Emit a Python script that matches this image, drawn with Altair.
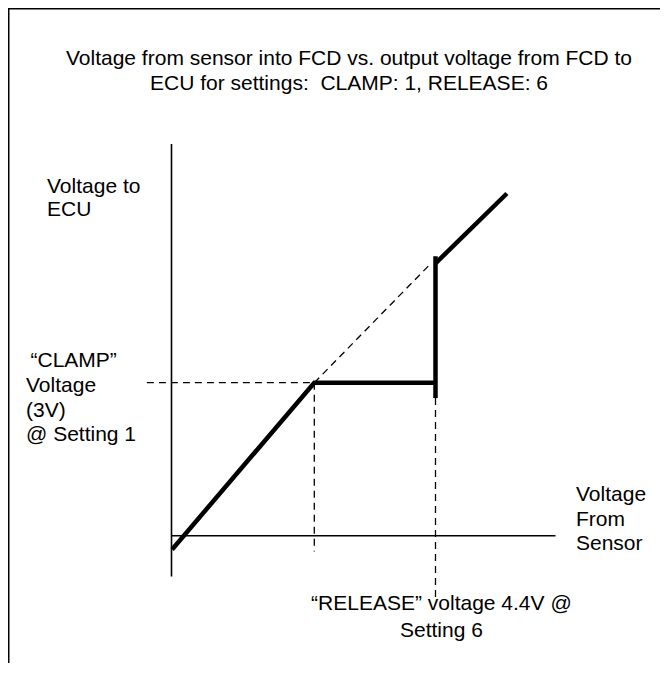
import altair as alt
import pandas as pd

# ---- values (volts) ----
CLAMP_V = 3.0          # clamp output voltage (setting 1)
RELEASE_V = 4.4        # release input voltage (setting 6)
KNEE_IN = 2.38         # sensor voltage where the clamp starts

out_path_x = [0.01, KNEE_IN, RELEASE_V]      # rising then clamped output
out_path_y = [-0.27, CLAMP_V, CLAMP_V]
jump_x = [RELEASE_V, RELEASE_V]               # jump at release
jump_y = [2.70, 5.48]
released_x = [RELEASE_V, 5.59]                # output follows input again
released_y = [5.34, 6.71]

ideal_x = [KNEE_IN, 4.30]                     # un-clamped (dashed) continuation
ideal_y = [CLAMP_V, 5.31]
clamp_guide_x = [-0.41, KNEE_IN]
clamp_guide_y = [CLAMP_V, CLAMP_V]
knee_drop_x = [KNEE_IN, KNEE_IN]
knee_drop_y = [CLAMP_V, -0.31]
release_drop_x = [RELEASE_V, RELEASE_V]
release_drop_y = [2.70, -1.26]

yaxis_x = [0.0, 0.0]
yaxis_y = [-0.80, 7.68]
xaxis_x = [0.0, 6.40]
xaxis_y = [0.0, 0.0]

title_lines = ["Voltage from sensor into FCD vs. output voltage from FCD to",
               "ECU for settings:\u00a0 CLAMP: 1, RELEASE: 6"]
y_label_lines = ["Voltage to", "ECU"]
x_label_lines = ["Voltage", "From", "Sensor"]
clamp_head = ["\u201cCLAMP\u201d"]
clamp_lines = ["Voltage", "(3V)", "@ Setting 1"]
release_lines = ["\u201cRELEASE\u201d voltage 4.4V @", "Setting 6"]

# ---- build table ----
rows = []
def add(name, kind, xs, ys):
    for i, (a, b) in enumerate(zip(xs, ys)):
        rows.append({"seg": name, "kind": kind, "i": i, "x": a, "y": b})

add("out", "thick", out_path_x, out_path_y)
add("jump", "thick", jump_x, jump_y)
add("released", "thick", released_x, released_y)
add("ideal", "dash", ideal_x, ideal_y)
add("clampguide", "dash", clamp_guide_x, clamp_guide_y)
add("kneedrop", "dash", knee_drop_x, knee_drop_y)
add("releasedrop", "dash", release_drop_x, release_drop_y)
add("yaxis", "axis", yaxis_x, yaxis_y)
add("xaxis", "axis", xaxis_x, xaxis_y)
df = pd.DataFrame(rows)

W, H = 652, 655
xs = alt.Scale(domain=[-163.5 / 60, (W - 163.5) / 60], nice=False, zero=False)
ys = alt.Scale(domain=[(527.7 - H) / 51, 527.7 / 51], nice=False, zero=False)

base = alt.Chart(df).encode(
    x=alt.X("x:Q", scale=xs, axis=None),
    y=alt.Y("y:Q", scale=ys, axis=None),
    detail="seg:N",
    order="i:Q",
)

thick = base.transform_filter(alt.datum.kind == "thick").mark_line(
    color="black", strokeWidth=4.5, strokeCap="butt", strokeJoin="miter")
dashed = base.transform_filter(alt.datum.kind == "dash").mark_line(
    color="black", strokeWidth=1.3, strokeDash=[7, 5])
axes = base.transform_filter(alt.datum.kind == "axis").mark_line(
    color="black", strokeWidth=1.6)

FONT = "Liberation Sans"

def text_block(lines, px, py, align, line_height):
    d = pd.DataFrame({"t": [lines]})
    return alt.Chart(d).mark_text(
        align=align, baseline="alphabetic", font=FONT, fontSize=21,
        color="black", lineHeight=line_height,
    ).encode(x=alt.value(px), y=alt.value(py), text="t")

title = text_block(title_lines, 341, 57, "center", 25)
ylab = text_block(y_label_lines, 39, 185, "left", 23)
xlab = text_block(x_label_lines, 568, 493, "left", 24.5)
chead = text_block(clamp_head, 22.5, 359, "left", 24.5)
clab = text_block(clamp_lines, 18, 384, "left", 24.5)
rlab = text_block(release_lines, 433.4, 602, "center", 27)

one = pd.DataFrame({"a": [0]})
border_top = alt.Chart(one).mark_rule(color="black", strokeWidth=1.5).encode(
    x=alt.value(0), x2=alt.value(W), y=alt.value(0.75))
border_left = alt.Chart(one).mark_rule(color="black", strokeWidth=1.5).encode(
    x=alt.value(0.75), y=alt.value(0), y2=alt.value(H))

chart = alt.layer(
    border_top, border_left, axes, dashed, thick,
    title, ylab, xlab, chead, clab, rlab,
).properties(
    width=W, height=H, padding=0, autosize="none"
).configure_view(stroke=None)

chart.save("out.html", embed_options={"renderer": "svg", "actions": False})
